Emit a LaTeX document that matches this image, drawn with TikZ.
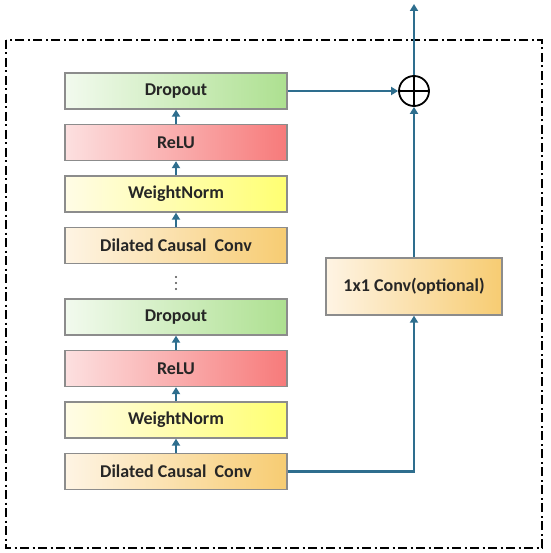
\documentclass[tikz,border=0pt]{standalone}
\usepackage{fontspec}
\setmainfont{Carlito}
\usetikzlibrary{arrows.meta}
\definecolor{linec}{HTML}{2E6E8E}
\definecolor{drL}{HTML}{F2FAEE}
\definecolor{drR}{HTML}{ADE090}
\definecolor{reL}{HTML}{FCE0E0}
\definecolor{reR}{HTML}{F77A7A}
\definecolor{wnL}{HTML}{FFFCE6}
\definecolor{wnR}{HTML}{FFFF72}
\definecolor{dcL}{HTML}{FEF4E4}
\definecolor{dcR}{HTML}{F7CC72}
\begin{document}
\begin{tikzpicture}[x=1pt,y=-1pt,
  blk/.style={draw=black!45, line width=1.3pt, minimum width=222pt, minimum height=36pt,
    inner sep=0pt, font=\bfseries\fontsize{18}{21}\selectfont, text=black!85},
  dropbox/.style={blk, left color=drL, right color=drR},
  relubox/.style={blk, left color=reL, right color=reR},
  wnbox/.style={blk, left color=wnL, right color=wnR},
  dcbox/.style={blk, left color=dcL, right color=dcR},
  conn/.style={draw=linec, line width=2.2pt, -{Triangle[length=7pt,width=8pt]}},
  sumnode/.style={circle, draw=black, line width=1.8pt, minimum size=30pt, inner sep=0pt,
    path picture={\draw[line width=1.6pt] (path picture bounding box.north) -- (path picture bounding box.south)
      (path picture bounding box.west) -- (path picture bounding box.east);}}
]
\useasboundingbox (0,0) rectangle (550,553);
\draw[line width=2pt, dash pattern=on 9pt off 3.5pt on 2pt off 3.5pt] (6,40) rectangle (542,548);

\node[dropbox] (dr1) at (176,91) {Dropout};
\node[relubox] (re1) at (176,142.5) {ReLU};
\node[wnbox] (wn1) at (176,194) {WeightNorm};
\node[dcbox] (dc1) at (176,245.5) {Dilated Causal\ \ Conv};

\foreach \yy in {277,283,289} \fill[black!70] (176,\yy) circle (1.1pt);

\node[dropbox] (dr2) at (176,317) {Dropout};
\node[relubox] (re2) at (176,368.5) {ReLU};
\node[wnbox] (wn2) at (176,420) {WeightNorm};
\node[dcbox] (dc2) at (176,471.5) {Dilated Causal\ \ Conv};

\node[dcbox, minimum width=176pt, minimum height=57pt] (conv) at (414,286.5) {1x1 Conv(optional)};
\node[sumnode] (sum) at (414,91) {};
\coordinate (out) at (414,4);

\draw[conn] (dc1) -- (wn1);
\draw[conn] (wn1) -- (re1);
\draw[conn] (re1) -- (dr1);
\draw[conn] (dc2) -- (wn2);
\draw[conn] (wn2) -- (re2);
\draw[conn] (re2) -- (dr2);
\draw[conn] (dr1.east) -- (sum.west);
\draw[conn] (dc2.east) -| (conv.south);
\draw[conn] (conv.north) -- (sum.south);
\draw[conn] (sum.north) -- (out);
\end{tikzpicture}
\end{document}
